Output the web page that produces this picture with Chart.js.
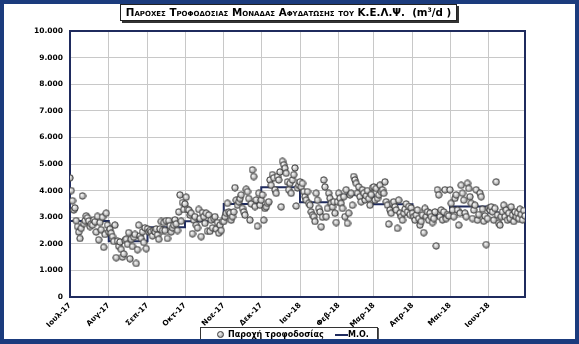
<!DOCTYPE html>
<html>
<head>
<meta charset="utf-8">
<script src="https://cdn.jsdelivr.net/npm/chart.js@4.4.1/dist/chart.umd.min.js"></script>
<style>
  body { margin: 0; background: #fff; }
  #wrap { position: relative; width: 579px; height: 344px; background: #fff; overflow: hidden; }
  #frame { position: absolute; left: 0; top: 0; width: 579px; height: 344px; box-sizing: border-box;
    border: 4px solid #1b3b7d; border-bottom-width: 5px; pointer-events: none; }
  #title { position: absolute; left: 120px; top: 4px; width: 337px; height: 17px; box-sizing: border-box;
    border: 1px solid #222; box-shadow: 2px 2px 0 #333; background: #fff;
    font: bold 10.3px "DejaVu Sans", sans-serif; text-align: center; line-height: 15px; color: #000; white-space: nowrap; }
  #title .sc { font-variant: small-caps; }
  #title sup { font-size: 6px; line-height: 0; }
  #legend { position: absolute; left: 200px; top: 327px; width: 178px; height: 15px; box-sizing: border-box;
    border: 1px solid #333; box-shadow: 1px 1px 0 #555; background: #fff;
    font: bold 8px "DejaVu Sans", sans-serif; color: #000; white-space: nowrap; line-height: 13px; }
  #legend .dot { position: absolute; left: 16px; top: 3px; width: 5px; height: 5px; border: 1px solid #3c3c3c; border-radius: 50%;
    background: radial-gradient(circle at 35% 35%, #f6f6f6, #8a8a8a); }
  #legend .t1 { position: absolute; left: 27px; top: 0; }
  #legend .ln { position: absolute; left: 134px; top: 6px; width: 13px; height: 2px; background: #1f2b5e; }
  #legend .t2 { position: absolute; left: 147px; top: 0; }
</style>
</head>
<body>
<div id="wrap">
  <canvas id="flowChart" width="579" height="344"></canvas>
  <div id="title"><span class="sc">Παροχες Τροφοδοσιας Μοναδας Αφυδατωσης του Κ.Ε.Λ.Ψ.</span>&nbsp; (m<sup>3</sup>/d )</div>
  <div id="legend"><span class="dot"></span><span class="t1">Παροχή τροφοδοσίας</span><span class="ln"></span><span class="t2">Μ.Ο.</span></div>
  <div id="frame"></div>
</div>
<script>
// months Jul 2017 - Jun 2018, x = day number from 1 Jul 2017
const monthLabels = ["Ιουλ-17", "Αυγ-17", "Σεπ-17", "Οκτ-17", "Νοε-17", "Δεκ-17", "Ιαν-18", "Φεβ-18", "Μαρ-18", "Απρ-18", "Μαι-18", "Ιουν-18"];
const monthStartDay = [0, 31, 62, 92, 123, 153, 184, 215, 243, 274, 304, 335];
const lastDay = 364;

// monthly average (M.O.)
const monthlyMean = [2860, 2100, 2620, 2850, 3500, 4130, 3560, 3840, 3490, 3060, 3400, 3180];

// daily feed flow, m3/d
const julFlow = [4480, 4000, 3620, 3270, 3350, 2870, 2650, 2440, 2200, 2580, 3800, 2760, 2870, 3050, 2980, 2860, 2650, 2750, 2700, 2900, 2830, 2440, 3030, 2150, 2800, 2530, 3000, 1870, 2350, 3150, 2700];
const augFlow = [2450, 2550, 2400, 2270, 2090, 2700, 1480, 2100, 1910, 2070, 1790, 1500, 1620, 2130, 2170, 1980, 2420, 1440, 2170, 1900, 2250, 2350, 1260, 1780, 2700, 2300, 2200, 2450, 2050, 2600, 1820];
const sepFlow = [2560, 2450, 2500, 2450, 2300, 2500, 2450, 2560, 2330, 2170, 2560, 2840, 2500, 2800, 2500, 2870, 2200, 2870, 2680, 2450, 2600, 2700, 2900, 2750, 2500, 3200, 3840, 2850, 3550, 3290];
const octFlow = [3500, 3750, 3290, 3270, 3080, 3150, 2380, 2890, 3020, 2700, 2600, 3290, 2950, 2270, 3170, 3020, 2770, 3150, 2470, 3080, 2470, 2890, 2600, 2950, 3020, 2550, 2800, 2400, 2700, 2500, 2840];
const novFlow = [2840, 3020, 3150, 3520, 3200, 3150, 2890, 3020, 3200, 4110, 3640, 3450, 3580, 3700, 3840, 3330, 3200, 3080, 4050, 3960, 3700, 2890, 3500, 4780, 4530, 3400, 3650, 2660, 3900, 3450];
const decFlow = [3640, 3840, 2890, 3330, 3390, 3520, 3580, 4400, 4200, 4600, 4480, 4030, 3900, 4530, 4400, 4700, 3390, 5100, 4970, 4840, 4650, 4330, 4030, 4270, 3900, 4400, 4600, 4850, 3420, 4100, 4200];
const janFlow = [4330, 4140, 4270, 3960, 3770, 3640, 3960, 3520, 3450, 3200, 3080, 3020, 2840, 3900, 3640, 3330, 3200, 2640, 3000, 4400, 4140, 3020, 3330, 3900, 3710, 3520, 3390, 3580, 3150, 2800, 3580];
const febFlow = [3900, 3710, 3520, 3330, 3770, 3020, 4030, 2770, 3150, 3840, 3900, 3450, 4530, 4400, 4270, 3900, 4140, 3770, 3580, 4030, 3900, 3650, 3800, 4000, 3700, 3450, 3850, 4100];
const marFlow = [4140, 3640, 4080, 3710, 3840, 4200, 3960, 4030, 3900, 4330, 3580, 3450, 2740, 3270, 3150, 3520, 3580, 3390, 3270, 2580, 3640, 3150, 3020, 2890, 3150, 3300, 3500, 3200, 3400, 3100, 3350];
const aprFlow = [3150, 3020, 2890, 3080, 3270, 2950, 2700, 2840, 3080, 2420, 3330, 3020, 3200, 2890, 3150, 3020, 2800, 2950, 3200, 1920, 4030, 3840, 3020, 3270, 2900, 3200, 4030, 2950, 3100, 3050];
const mayFlow = [4030, 3520, 3270, 3020, 3710, 3840, 3270, 2700, 3150, 4200, 3900, 3640, 3150, 3020, 4270, 4080, 3770, 3520, 2950, 3270, 3450, 4030, 2890, 3100, 3900, 3770, 3300, 2850, 3050, 1970, 2950];
const junFlow = [3330, 3270, 3390, 3200, 2890, 3330, 4330, 3080, 2770, 2700, 3020, 3200, 3450, 3020, 3270, 2890, 3150, 2950, 3390, 3080, 2840, 3200, 3020, 3150, 2950, 3300, 3100, 2900, 3250, 3050];

const dailyFlow = [julFlow, augFlow, sepFlow, octFlow, novFlow, decFlow, janFlow, febFlow, marFlow, aprFlow, mayFlow, junFlow];

const flowPoints = [];
dailyFlow.forEach((month, m) => {
  month.forEach((v, d) => flowPoints.push({ x: monthStartDay[m] + d, y: v }));
});
const meanPoints = monthlyMean.map((v, m) => ({ x: monthStartDay[m], y: v }));
meanPoints.push({ x: lastDay, y: monthlyMean[monthlyMean.length - 1] });

// grey ball marker
const ball = document.createElement("canvas");
ball.width = 8; ball.height = 8;
const b = ball.getContext("2d");
const grad = b.createRadialGradient(3, 3, 0.5, 4, 4, 4);
grad.addColorStop(0, "#f6f6f6");
grad.addColorStop(1, "#8a8a8a");
b.fillStyle = grad;
b.beginPath(); b.arc(4, 4, 3.2, 0, Math.PI * 2); b.fill();
b.strokeStyle = "#3c3c3c"; b.lineWidth = 1; b.stroke();

function thousands(v) {
  return String(v).replace(/\B(?=(\d{3})+(?!\d))/g, ".");
}

// dark border round the plot area
const plotFrame = {
  id: "plotFrame",
  beforeDatasetsDraw(chart) {
    const { ctx, chartArea: a } = chart;
    ctx.save();
    ctx.strokeStyle = "#1f2b5e";
    ctx.lineWidth = 2;
    ctx.strokeRect(a.left, a.top, a.width, a.height);
    ctx.restore();
  }
};

const tickFont = { family: "DejaVu Sans", size: 7.5, weight: "bold" };

new Chart(document.getElementById("flowChart"), {
  type: "scatter",
  data: {
    datasets: [
      {
        label: "Παροχή τροφοδοσίας",
        data: flowPoints,
        pointStyle: ball,
        pointRadius: 4,
        order: 1
      },
      {
        label: "Μ.Ο.",
        type: "line",
        data: meanPoints,
        stepped: "before",
        borderColor: "#1f2b5e",
        borderWidth: 2,
        pointRadius: 0,
        fill: false,
        order: 2
      }
    ]
  },
  options: {
    responsive: false,
    animation: false,
    layout: { padding: { left: 10, top: 31, right: 54, bottom: 17 } },
    plugins: { legend: { display: false }, tooltip: { enabled: false } },
    scales: {
      x: {
        type: "linear",
        min: 0,
        max: lastDay,
        afterBuildTicks: s => { s.ticks = monthStartDay.map(v => ({ value: v })); },
        afterFit: s => { s.height = 30; },
        grid: { color: "#c8c8c8", drawTicks: false },
        border: { display: false },
        ticks: {
          autoSkip: false,
          maxRotation: 45,
          minRotation: 45,
          padding: 4,
          color: "#000",
          font: tickFont,
          callback: (v, i) => monthLabels[i]
        }
      },
      y: {
        min: 0,
        max: 10000,
        afterFit: s => { s.width = 60; },
        grid: { color: "#c8c8c8", drawTicks: false },
        border: { display: false },
        ticks: { stepSize: 1000, padding: 7, color: "#000", font: tickFont, callback: v => thousands(v) }
      }
    }
  },
  plugins: [plotFrame]
});
</script>
</body>
</html>
